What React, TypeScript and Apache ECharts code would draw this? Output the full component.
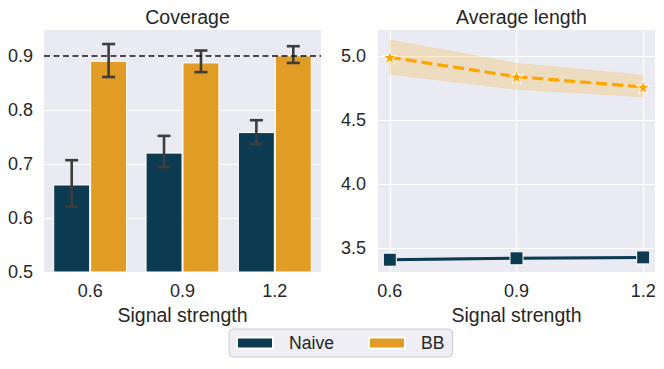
import React, { useEffect, useRef } from "react";
import * as echarts from "echarts";

const categories = ["0.6", "0.9", "1.2"];
const signal = [0.6, 0.9, 1.2];
const naiveCoverage = [0.662, 0.721, 0.759];
const naiveCovLo = [0.621, 0.694, 0.737];
const naiveCovHi = [0.707, 0.752, 0.781];
const bbCoverage = [0.891, 0.888, 0.901];
const bbCovLo = [0.861, 0.87, 0.887];
const bbCovHi = [0.922, 0.91, 0.918];
const targetLevel = 0.9;
const coverageTicks = [0.5, 0.6, 0.7, 0.8, 0.9];
const lengthTicks = [3.5, 4.0, 4.5, 5.0];
const naiveLength = [3.409, 3.42, 3.427];
const naiveLenLo = [3.4, 3.412, 3.419];
const naiveLenHi = [3.418, 3.428, 3.435];
const bbLength = [4.99, 4.838, 4.758];
const bbLenLo = [4.857, 4.74, 4.68];
const bbLenHi = [5.125, 4.943, 4.85];

const FONT = "'Liberation Sans', Arial, sans-serif";
const TXT = "#262626";
const NAIVE = "#0c3a51";
const BB_BAR = "#e09c24";
const BB_LINE = "#ffa500";
const BG = "#eaeaf2";
const STAR =
  "path://M50,0 L61.2,34.5 L97.6,34.5 L68.2,55.9 L79.4,90.5 L50,69.1 L20.6,90.5 L31.8,55.9 L2.4,34.5 L38.8,34.5 Z";

function errRender(dir: number) {
  return (params: any, api: any) => {
    const i = api.value(0);
    const w = api.size([1, 0])[0];
    const off = dir * w * 0.2;
    const p1 = api.coord([i, api.value(1)]);
    const p2 = api.coord([i, api.value(2)]);
    const x = p1[0] + off;
    const cap = 6.5;
    const style = { stroke: "#3d3d3d", lineWidth: 2.6 };
    return {
      type: "group",
      children: [
        { type: "line", shape: { x1: x, y1: p1[1], x2: x, y2: p2[1] }, style },
        { type: "line", shape: { x1: x - cap, y1: p1[1], x2: x + cap, y2: p1[1] }, style },
        { type: "line", shape: { x1: x - cap, y1: p2[1], x2: x + cap, y2: p2[1] }, style },
      ],
    };
  };
}

function bandRender(xs: number[], lo: number[], hi: number[], color: string) {
  return (params: any, api: any) => {
    if (params.dataIndex !== 0) return null;
    const upper = xs.map((x, i) => api.coord([x, hi[i]]));
    const lower = xs.map((x, i) => api.coord([x, lo[i]])).reverse();
    return {
      type: "polygon",
      shape: { points: upper.concat(lower) },
      style: { fill: color, opacity: 0.2, stroke: color, lineWidth: 1, strokeOpacity: 0.6 },
    };
  };
}

export default function App() {
  const ref = useRef<HTMLDivElement>(null);
  useEffect(() => {
    const chart = echarts.init(ref.current!, null, { renderer: "svg" });
    const axisLabel = { color: TXT, fontSize: 18, fontFamily: FONT };
    const nameTextStyle = { color: TXT, fontSize: 19.5, fontFamily: FONT };
    const split = { show: true, lineStyle: { color: "#ffffff", width: 1.2 } };
    chart.setOption({
      animation: false,
      textStyle: { fontFamily: FONT },
      title: [
        {
          text: "Coverage",
          left: 182.5,
          top: 2,
          textAlign: "center",
          textStyle: { color: TXT, fontSize: 19.5, fontWeight: "normal", fontFamily: FONT },
        },
        {
          text: "Average length",
          left: 516.5,
          top: 2,
          textAlign: "center",
          textStyle: { color: TXT, fontSize: 19.5, fontWeight: "normal", fontFamily: FONT },
        },
      ],
      legend: {
        data: ["Naive", "BB"],
        left: 229,
        top: 329,
        icon: "rect",
        itemWidth: 36,
        itemHeight: 11,
        itemGap: 34,
        padding: [5, 8, 5, 7],
        backgroundColor: "#eeeef4",
        borderColor: "#cccccc",
        borderWidth: 1,
        borderRadius: 4,
        textStyle: { color: TXT, fontSize: 17.6, fontFamily: FONT, padding: [0, 0, 0, 11] },
      },
      grid: [
        { left: 44, width: 277, top: 30, height: 242, show: true, backgroundColor: BG, borderWidth: 0 },
        { left: 378, width: 277, top: 30, height: 242, show: true, backgroundColor: BG, borderWidth: 0 },
      ],
      xAxis: [
        {
          type: "category",
          gridIndex: 0,
          data: categories,
          axisLine: { show: false },
          axisTick: { show: false },
          splitLine: { show: false },
          axisLabel: { ...axisLabel, margin: 10 },
          name: "Signal strength",
          nameLocation: "middle",
          nameGap: 30,
          nameTextStyle,
        },
        {
          type: "value",
          gridIndex: 1,
          min: 0.572,
          max: 1.228,
          axisLine: { show: false },
          axisTick: { show: false, customValues: signal },
          splitLine: split,
          axisLabel: { ...axisLabel, margin: 10, customValues: signal, formatter: (v: number) => v.toFixed(1) },
          name: "Signal strength",
          nameLocation: "middle",
          nameGap: 30,
          nameTextStyle,
        },
      ],
      yAxis: [
        {
          type: "value",
          gridIndex: 0,
          min: 0.5,
          max: 0.948,
          axisLine: { show: false },
          axisTick: { show: false, customValues: coverageTicks },
          splitLine: split,
          axisLabel: { ...axisLabel, margin: 11, customValues: coverageTicks, formatter: (v: number) => v.toFixed(1) },
        },
        {
          type: "value",
          gridIndex: 1,
          min: 3.313,
          max: 5.203,
          axisLine: { show: false },
          axisTick: { show: false, customValues: lengthTicks },
          splitLine: split,
          axisLabel: { ...axisLabel, margin: 12, customValues: lengthTicks, formatter: (v: number) => v.toFixed(1) },
        },
      ],
      series: [
        {
          name: "Naive",
          type: "bar",
          xAxisIndex: 0,
          yAxisIndex: 0,
          data: naiveCoverage,
          barCategoryGap: "20%",
          barGap: "0%",
          itemStyle: { color: NAIVE, borderColor: "#ffffff", borderWidth: 1 },
        },
        {
          name: "BB",
          type: "bar",
          xAxisIndex: 0,
          yAxisIndex: 0,
          data: bbCoverage,
          barCategoryGap: "20%",
          barGap: "0%",
          itemStyle: { color: BB_BAR, borderColor: "#ffffff", borderWidth: 1 },
          markLine: {
            silent: true,
            symbol: "none",
            label: { show: false },
            lineStyle: { color: "#111111", type: [6, 3.5], width: 1.6 },
            data: [{ yAxis: targetLevel }],
            z: 10,
          },
        },
        {
          name: "naiveErr",
          type: "custom",
          xAxisIndex: 0,
          yAxisIndex: 0,
          z: 5,
          renderItem: errRender(-1),
          encode: { x: 0, y: [1, 2] },
          data: categories.map((c, i) => [i, naiveCovLo[i], naiveCovHi[i]]),
        },
        {
          name: "bbErr",
          type: "custom",
          xAxisIndex: 0,
          yAxisIndex: 0,
          z: 5,
          renderItem: errRender(1),
          encode: { x: 0, y: [1, 2] },
          data: categories.map((c, i) => [i, bbCovLo[i], bbCovHi[i]]),
        },
        {
          name: "bbBand",
          type: "custom",
          xAxisIndex: 1,
          yAxisIndex: 1,
          z: 1,
          renderItem: bandRender(signal, bbLenLo, bbLenHi, BB_LINE),
          encode: { x: 0, y: [1, 2] },
          data: signal.map((x, i) => [x, bbLenLo[i], bbLenHi[i]]),
        },
        {
          name: "naiveBand",
          type: "custom",
          xAxisIndex: 1,
          yAxisIndex: 1,
          z: 1,
          renderItem: bandRender(signal, naiveLenLo, naiveLenHi, NAIVE),
          encode: { x: 0, y: [1, 2] },
          data: signal.map((x, i) => [x, naiveLenLo[i], naiveLenHi[i]]),
        },
        {
          name: "Naive length",
          type: "line",
          xAxisIndex: 1,
          yAxisIndex: 1,
          data: signal.map((x, i) => [x, naiveLength[i]]),
          symbol: "rect",
          symbolSize: 13,
          lineStyle: { color: NAIVE, width: 3 },
          itemStyle: { color: NAIVE, borderColor: "#ffffff", borderWidth: 1 },
          z: 3,
        },
        {
          name: "BB length",
          type: "line",
          xAxisIndex: 1,
          yAxisIndex: 1,
          data: signal.map((x, i) => [x, bbLength[i]]),
          symbol: STAR,
          symbolSize: 14,
          lineStyle: { color: BB_LINE, width: 3.2, type: [11, 5] },
          itemStyle: { color: BB_LINE, borderColor: "#ffffff", borderWidth: 1 },
          z: 3,
        },
      ],
    });
    return () => chart.dispose();
  }, []);
  return (
    <div
      ref={ref}
      style={{ position: "fixed", left: 0, top: 0, width: 664, height: 369, background: "#ffffff" }}
    />
  );
}
